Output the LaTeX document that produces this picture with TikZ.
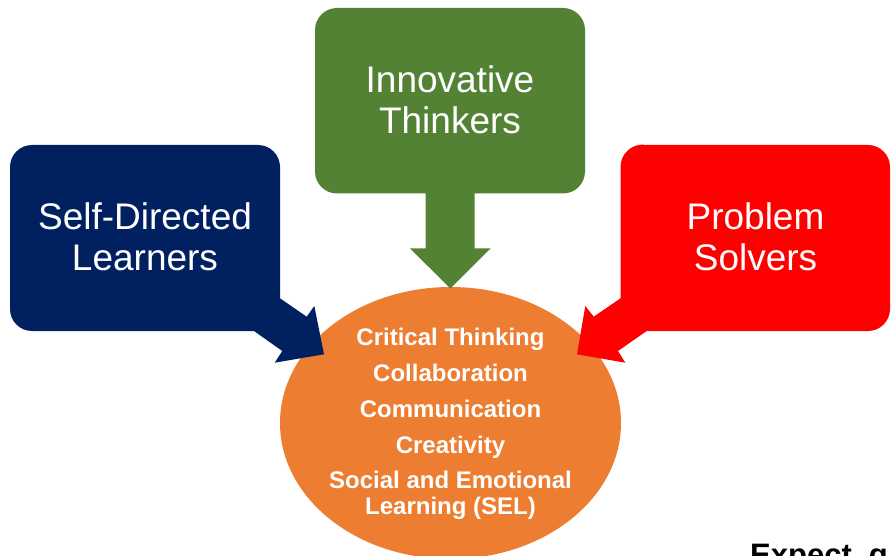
\documentclass[tikz,border=0pt]{standalone}
\usepackage{fontspec}
\setmainfont{Liberation Sans}
\usetikzlibrary{shapes.geometric}
\definecolor{navy}{HTML}{002060}
\definecolor{leaf}{HTML}{548235}
\definecolor{orng}{HTML}{ED7D31}
\tikzset{
  callout/.style={draw=none, rounded corners=0pt},
  bigtext/.style={text=white, align=center, font=\fontsize{37}{41}\selectfont, inner sep=0pt},
  smalltext/.style={text=white, font=\fontsize{24}{26}\selectfont\bfseries, inner sep=0pt, align=center},
  baseline text/.style={smalltext, anchor=base}
}
\begin{document}
\begin{tikzpicture}[x=1pt,y=-1pt]
\useasboundingbox (0,0) rectangle (891,556);
\clip (0,0) rectangle (891,556);
\fill[white] (0,0) rectangle (891,556);
% ellipse
\node[ellipse, fill=orng, minimum width=341pt, minimum height=272pt, inner sep=0pt, draw=none] (core) at (450.5,423) {};
% blue callout
\fill[navy, callout] (32,145) -- (258,145) arc[start angle=-90,end angle=0,radius=22] -- (280,298.3)
  -- (306.7,316.7) -- (314.3,306) -- (324,354.3) -- (274.7,362.7) -- (282.3,351) -- (254,331)
  -- (32,331) arc[start angle=90,end angle=180,radius=22] -- (10,167) arc[start angle=180,end angle=270,radius=22] -- cycle;
% red callout
\fill[red, callout] (643,145) -- (868,145) arc[start angle=-90,end angle=0,radius=22] -- (890,309)
  arc[start angle=0,end angle=90,radius=22] -- (646.7,331) -- (618,351) -- (625.3,362.7) -- (577,354.3)
  -- (585.3,306) -- (593.7,316.7) -- (620.5,298.3) -- (620.5,167) arc[start angle=180,end angle=270,radius=22.5] -- cycle;
% green callout
\fill[leaf, callout] (337,8) -- (563,8) arc[start angle=-90,end angle=0,radius=22] -- (585,171.5)
  arc[start angle=0,end angle=90,radius=22] -- (474.7,193.5) -- (474.7,248.3) -- (490.7,248.3) -- (450.3,288.5)
  -- (410,248.3) -- (425.7,248.3) -- (425.7,193.5) -- (337,193.5) arc[start angle=90,end angle=180,radius=22]
  -- (315,30) arc[start angle=180,end angle=270,radius=22] -- cycle;
\node[bigtext] (innov) at (450,99.5) {Innovative\\Thinkers};
\node[bigtext] (self) at (145,236.5) {Self-Directed\\Learners};
\node[bigtext] (prob) at (755.5,236.5) {Problem\\Solvers};
\node[baseline text] (t1) at (450.5,345) {Critical Thinking};
\node[baseline text] (t2) at (450.5,381) {Collaboration};
\node[baseline text] (t3) at (450.5,417) {Communication};
\node[baseline text] (t4) at (450.5,453) {Creativity};
\node[smalltext] (t5) at (450.5,495.5) {Social and Emotional\\Learning (SEL)};
\node[anchor=base west, inner sep=0pt, text=black, font=\fontsize{31}{36}\selectfont\bfseries] (foot) at (750,565) {Expect\hspace{17pt}g};
\end{tikzpicture}
\end{document}
